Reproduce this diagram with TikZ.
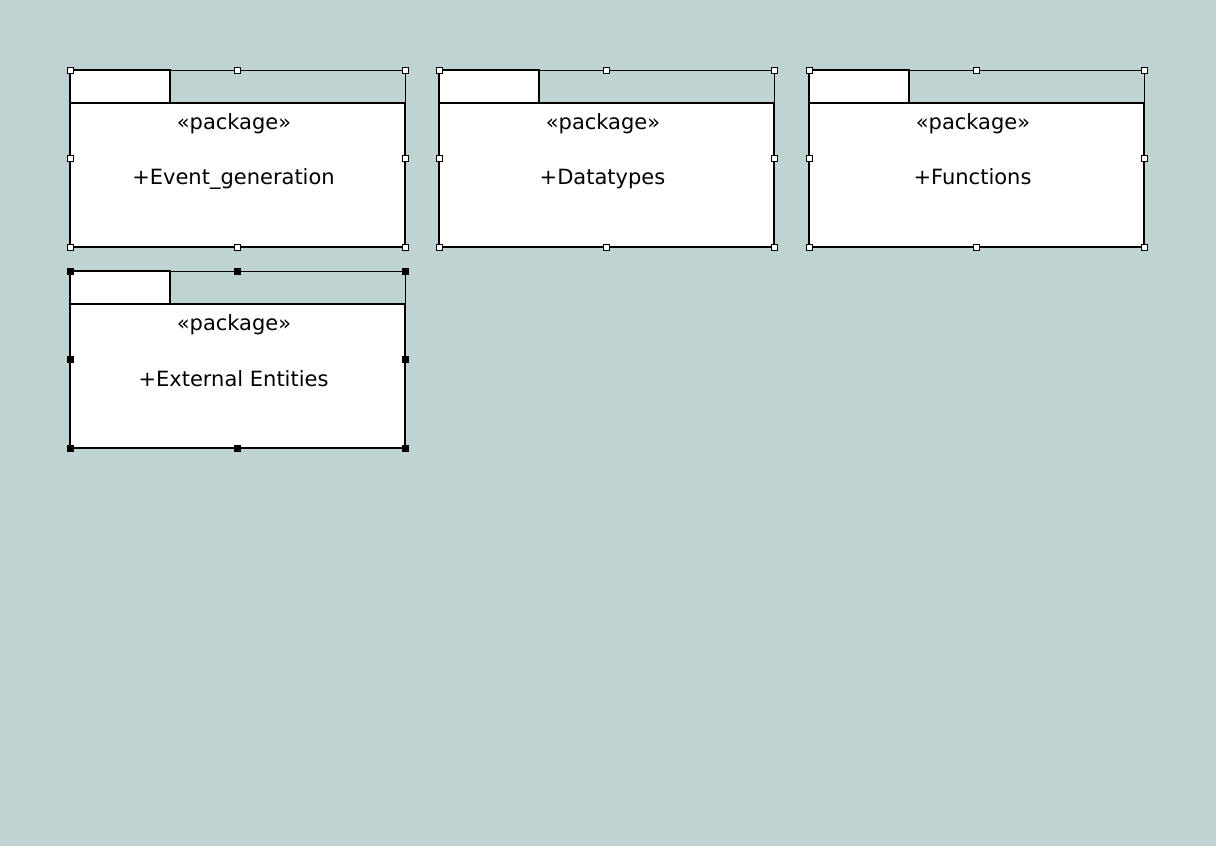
\documentclass[tikz,border=0pt]{standalone}
\usepackage{fontspec}
\setmainfont{DejaVu Sans}
\definecolor{bgc}{RGB}{191,211,210}
\tikzset{
  tabbox/.style={draw=black, fill=white, line width=1.2pt, inner sep=0pt, outer sep=0pt},
  bodybox/.style={draw=black, fill=white, line width=2pt, inner sep=0pt, outer sep=0pt},
  selrect/.style={draw=black, line width=0.8pt},
  txt/.style={font=\fontsize{21}{25}\selectfont, inner sep=0pt, anchor=base},
  hdl/.style={draw=black, fill=white, line width=0.7pt, minimum size=6pt, inner sep=0pt},
}
\newcommand{\umlpkg}[5]{%
\begin{scope}[shift={(#2,#3)}]
  \node[tabbox, minimum width=100pt, minimum height=33pt, anchor=north west] (#1-tab) at (0,0) {};
  \node[bodybox, minimum width=335pt, minimum height=144pt, anchor=north west] (#1-body) at (0,33) {};
  \draw[selrect] (0,0) rectangle (335,177);
  \node[txt] (#1-st) at (164,59.5) {«package»};
  \node[txt] (#1-nm) at (163.5,115) {#4};
  \foreach \px/\py [count=\i] in {0/0,167.5/0,335/0,0/88.5,335/88.5,0/177,167.5/177,335/177}
    \node[hdl, fill=#5] (#1-h\i) at (\px,\py) {};
\end{scope}}
\begin{document}
\begin{tikzpicture}[x=1pt,y=-1pt]
  \useasboundingbox (0,0) rectangle (1231,861);
  \fill[white] (0,0) rectangle (1231,861);
  \fill[bgc] (0,0) rectangle (1216,846);
  \umlpkg{p1}{70}{70}{+Event\_generation}{white}
  \umlpkg{p2}{439}{70}{+Datatypes}{white}
  \umlpkg{p3}{809}{70}{+Functions}{white}
  \umlpkg{p4}{70}{271}{+External Entities}{black}
\end{tikzpicture}
\end{document}
